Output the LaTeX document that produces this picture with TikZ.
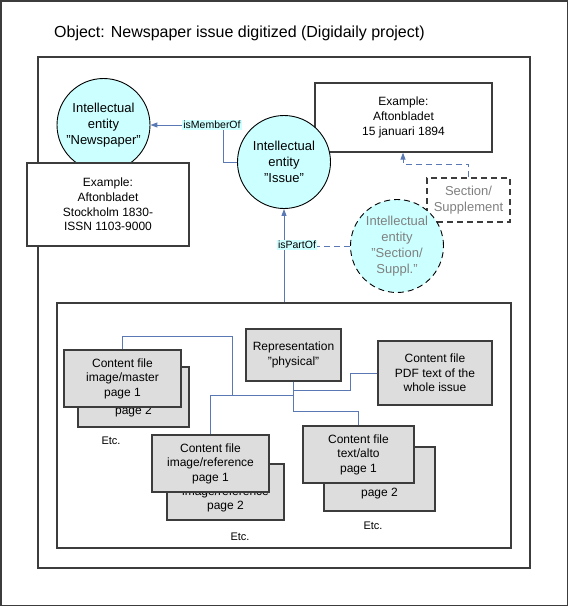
\documentclass[tikz,border=0pt]{standalone}
\usepackage{fontspec}
\setmainfont{Liberation Sans}
\usetikzlibrary{arrows.meta}
\definecolor{cyanfill}{RGB}{204,255,255}
\definecolor{boxgray}{RGB}{221,221,221}
\definecolor{linkblue}{RGB}{90,120,180}
\definecolor{framegray}{RGB}{60,60,60}
\definecolor{softgray}{RGB}{128,128,128}
\begin{document}
\begin{tikzpicture}[x=1pt,y=-1pt,
  entity/.style={circle,draw=black,line width=0.9pt,fill=cyanfill,minimum size=93pt,inner sep=0pt,align=center,font=\fontsize{13}{16}\selectfont},
  example/.style={rectangle,draw=framegray,line width=1.2pt,fill=white,align=center,font=\fontsize{12}{14.8}\selectfont,inner sep=0pt},
  filebox/.style={rectangle,draw=framegray,line width=1.4pt,fill=boxgray,align=center,font=\fontsize{12}{14.5}\selectfont,inner sep=0pt},
  pagetext/.style={inner sep=0pt,font=\fontsize{12}{14.5}\selectfont},
  link/.style={draw=linkblue,line width=1pt},
  tip/.style={-{Triangle[length=7pt,width=5pt]}},
  dashline/.style={dash pattern=on 6pt off 4pt},
  rel/.style={fill=cyanfill,inner sep=1pt,font=\fontsize{10.5}{12}\selectfont},
  etc/.style={font=\fontsize{11}{13}\selectfont,inner sep=0pt},
  frame/.style={draw=framegray,line width=1.2pt}
]
\useasboundingbox (0,0) rectangle (568,606);
% outer border and frames
\draw[frame,line width=1.5pt] (0.75,0.75) rectangle (567.25,605.25);
\node[anchor=west,inner sep=0pt,font=\fontsize{16}{19}\selectfont] (title) at (54,33) {Object: Newspaper issue digitized (Digidaily project)};
\draw[frame] (38,57) rectangle (530,568);
\node[frame,rectangle,minimum width=454pt,minimum height=245pt,inner sep=0pt] (sub) at (284,425.5) {};

% top part
\node[entity] (news) at (103.5,125) {Intellectual\\entity\\”Newspaper”};
\node[example,minimum width=162pt,minimum height=83pt] (ex1) at (108,204.5) {Example:\\Aftonbladet\\Stockholm 1830-\\ISSN 1103-9000};
\node[example,minimum width=177pt,minimum height=69pt] (ex2) at (403.5,117.5) {Example:\\Aftonbladet\\15 januari 1894};
\node[rectangle,draw=framegray,line width=1.2pt,dashline,fill=white,minimum width=83pt,minimum height=44pt,inner sep=0pt,align=center,text=softgray,font=\fontsize{13}{16}\selectfont] (sect) at (468.5,200) {Section/\\Supplement};
\node[entity] (issue) at (284,162) {Intellectual\\entity\\”Issue”};
\node[entity,dashline,text=softgray] (secc) at (397,246) {Intellectual\\entity\\"Section/\\Suppl."};

% relations
\coordinate (mb) at (223,125);
\draw[link,tip] (issue.west) -| (mb) -- (news.east);
\node[rel] (memlab) at (212,125) {isMemberOf};
\coordinate (sd) at (403,164);
\draw[link,dashline,tip] (sect.north) |- (sd) -- (sd |- ex2.south);
\draw[link,tip] (sub.north) -- (issue.south);
\draw[link,dashline] (secc.west) -- (issue.south |- secc.west);
\node[rel] (partlab) at (297,245) {isPartOf};

% content files
\node[filebox,minimum width=95pt,minimum height=52pt] (rep) at (293.5,355) {Representation\\"physical"};
\node[filebox,minimum width=114pt,minimum height=64pt] (pdf) at (435,373) {Content file\\PDF text of the\\whole issue};
\node[filebox,minimum width=111pt,minimum height=60pt] (masB) at (133.5,397) {};
\node[pagetext] (masBt) at (133.5,411.5) {page 2};
\node[filebox,minimum width=117pt,minimum height=57pt] (masA) at (122.5,378.5) {Content file\\image/master\\page 1};
\node[filebox,minimum width=117pt,minimum height=56pt] (refB) at (225.5,492) {Content file\\image/reference\\page 2};
\node[filebox,minimum width=117pt,minimum height=57pt] (refA) at (210.5,463.5) {Content file\\image/reference\\page 1};
\node[filebox,minimum width=111pt,minimum height=64pt] (altB) at (379.5,479) {};
\node[pagetext] (altBt) at (379.5,493.5) {page 2};
\node[filebox,minimum width=111pt,minimum height=57pt] (altA) at (358.5,454.5) {Content file\\text/alto\\page 1};
\node[etc] (etc1) at (111,441) {Etc.};
\node[etc] (etc2) at (240,537) {Etc.};
\node[etc] (etc3) at (373,526) {Etc.};

% connectors inside
\coordinate (ja) at (293.5,411.5);
\coordinate (jl) at (210,395);
\coordinate (jm) at (232,336);
\coordinate (jp) at (350,390);
\draw[link] (rep.south) -- (ja) -| (altA.north);
\draw[link] (rep.south |- jl) -| (refA.north);
\draw[link] (jm |- jl) -- (jm) -| (masA.north);
\draw[link] (rep.south |- jp) -- (jp) |- (pdf.west);
\end{tikzpicture}
\end{document}
